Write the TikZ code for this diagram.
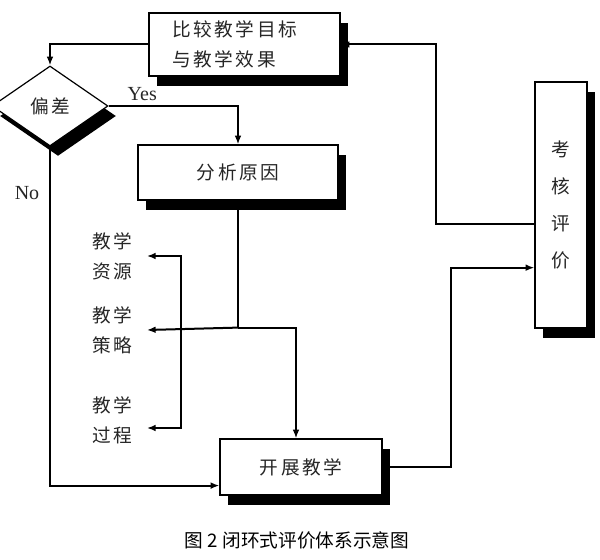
\documentclass[tikz,border=0pt]{standalone}
\usepackage{fontspec}
\setmainfont{Liberation Serif}
\newfontfamily\cjk[LetterSpace=14]{Noto Sans CJK SC}
\newfontfamily\cjkplain{Noto Sans CJK SC}
\usetikzlibrary {arrows.meta,
                 calc,
                 positioning,
                 shapes.geometric,
                 shadows}
\tikzset{
        base/.style={draw, line width=0.9pt, fill=white, align=center,
                     text=black!85,
                     font=\cjk\fontsize{14pt}{22.5pt}\selectfont,
                     general shadow={fill=black, shadow xshift=6pt,
                                     shadow yshift=-7.5pt}},
        proc/.style={base, rectangle, inner sep=0pt},
        test/.style={base, diamond, inner sep=0pt,
                     minimum width=87pt, minimum height=60pt},
        lbl/.style={align=center, text=black!85, inner xsep=11pt,
                    inner ysep=0pt,
                    font=\cjk\fontsize{14pt}{22.5pt}\selectfont},
        yesno/.style={font=\fontsize{15pt}{17pt}\selectfont, text=black!85},
        myarrow/.style={-{Latex[length=6.5pt, width=5pt]}, line width=1.5pt},
 }

\begin{document}
\begin{tikzpicture}[x=0.75pt, y=-0.75pt]
        \useasboundingbox (0,0) rectangle (600,560);

        \node[proc, align=left, text width=108.75pt, inner xsep=17.25pt,
              minimum height=47.25pt] (cmp) at (244.5,44.5) {
              比较教学目标\\与教学效果};
        \node[test] (dev) at (50,106) {偏差};
        \node[proc, minimum width=150pt, minimum height=41.25pt]
              (why) at (238,172.5) {分析原因};
        \node[proc, minimum width=121.5pt, minimum height=42pt]
              (run) at (301,467) {开展教学};
        \node[proc, minimum width=39pt, minimum height=184.5pt,
              font=\cjkplain\fontsize{14pt}{27.75pt}\selectfont]
              (eval) at (561,205) {考\\核\\评\\价};

        \node[lbl] (res) at (112,256) {教学\\资源};
        \node[lbl] (str) at (112,330) {教学\\策略};
        \node[lbl] (proc) at (112,420) {教学\\过程};

        \coordinate[below=95.25pt of why.south] (split);
        \coordinate[right=25.5pt of str.east] (brk);

        \node[font=\cjkplain\fontsize{14pt}{16pt}\selectfont, text=black]
              (cap) at (297,540) {图 2 闭环式评价体系示意图};

        \draw[myarrow] (cmp.west) -| (dev.north);
        \draw[myarrow] (dev.east) -| node[pos=0.13, above, yesno] {Yes}
             (why.north);
        \draw[myarrow] (dev.south) |- node[pos=0.068, left=4pt, yesno] {No}
             ([yshift=7.5pt]run.south west);

        \draw[line width=1.5pt] (why.south) -- (split);
        \draw[myarrow] (split) -- (str.east);
        \draw[myarrow] (split) -| ([xshift=-3.75pt]run.north);
        \draw[myarrow] (brk) |- (res.east);
        \draw[myarrow] (brk) |- ([yshift=-6pt]proc.east);

        \draw[myarrow] (run.east) -- ++(68,0) |- ([yshift=-47pt]eval.west);
        \draw[myarrow] ([yshift=-14pt]eval.west) -- ++(-98,0) |- (cmp.east);

\end{tikzpicture}
\end{document}
